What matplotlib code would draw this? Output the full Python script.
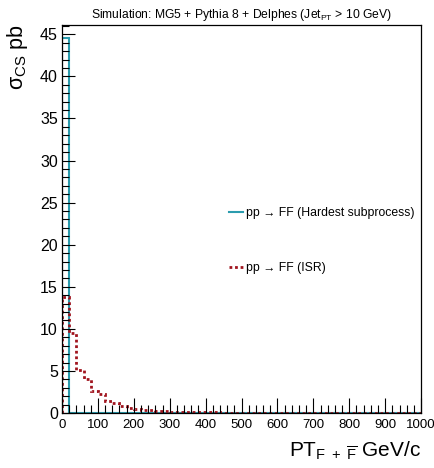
import matplotlib
matplotlib.use('Agg')
import matplotlib.pyplot as plt
from matplotlib.lines import Line2D
from matplotlib.ticker import MultipleLocator
import numpy as np

plt.rcParams['font.family'] = ['Liberation Sans', 'DejaVu Sans']
plt.rcParams['mathtext.fontset'] = 'custom'
plt.rcParams['mathtext.rm'] = 'Liberation Sans'
plt.rcParams['mathtext.it'] = 'Liberation Sans'

# bin edges in GeV/c
edges = np.arange(0, 1001, 20)

# hardest subprocess: everything in the first bin
hard_vals = [44.5] + [0.02] * 49

# ISR spectrum
isr_vals = [13.8, 9.5, 5.1, 4.0, 2.6, 2.3, 1.4, 1.2, 0.85, 0.6,
            0.5, 0.4, 0.3, 0.22, 0.2, 0.15, 0.12, 0.1, 0.09, 0.08,
            0.07, 0.07, 0.06, 0.06, 0.05, 0.05, 0.05, 0.04, 0.04, 0.04,
            0.04, 0.03, 0.03, 0.03, 0.03, 0.03, 0.03, 0.02, 0.02, 0.02,
            0.02, 0.02, 0.02, 0.02, 0.02, 0.02, 0.02, 0.02, 0.02, 0.02]

cyan = '#2b9cae'
red = '#a0141e'

fig = plt.figure(figsize=(4.35, 4.68), dpi=100)
ax = fig.add_axes([0.1425, 0.1175, 0.8255, 0.8291])

ax.stairs(hard_vals, edges, color=cyan, lw=1.5)
ax.stairs(isr_vals, edges, color=red, lw=2, linestyle=(0, (1, 1)))

ax.set_xlim(0, 1000)
ax.set_ylim(0, 46.1)
ax.xaxis.set_major_locator(MultipleLocator(100))
ax.xaxis.set_minor_locator(MultipleLocator(20))
ax.yaxis.set_major_locator(MultipleLocator(5))
ax.yaxis.set_minor_locator(MultipleLocator(1))
ax.tick_params(which='both', direction='in', top=False, right=False, width=0.8)
ax.tick_params(axis='x', which='major', length=11, labelsize=9.5, pad=4)
ax.tick_params(axis='x', which='minor', length=6)
ax.tick_params(axis='y', which='major', length=9, labelsize=11.5, pad=3)
ax.tick_params(axis='y', which='minor', length=5)
for s in ax.spines.values():
    s.set_linewidth(0.9)

ax.set_title('Simulation: MG5 + Pythia 8 + Delphes (Jet$_{\\mathrm{PT}}$ > 10 GeV)',
             fontsize=8.7, pad=5)

fig.text(0.968, 0.012, r'PT$_{\mathrm{F\ +\ \overline{F}}}$ GeV/c', ha='right', va='bottom', fontsize=15)
fig.text(0.012, 0.948, r'$\mathrm{\sigma}_{\mathrm{CS}}$ pb', ha='left', va='top', rotation=90, fontsize=15.5)

handles = [Line2D([], [], color=cyan, lw=1.5),
           Line2D([], [], color=red, lw=2, linestyle=(0, (1, 1)))]
labels = ['pp \u2192 FF (Hardest subprocess)', 'pp \u2192 FF (ISR)']
ax.legend(handles, labels, frameon=False, fontsize=8.8, loc='upper left',
          bbox_to_anchor=(0.435, 0.559), handlelength=1.1, handletextpad=0.25,
          labelspacing=3.55)

fig.savefig('out.png', dpi=100)
